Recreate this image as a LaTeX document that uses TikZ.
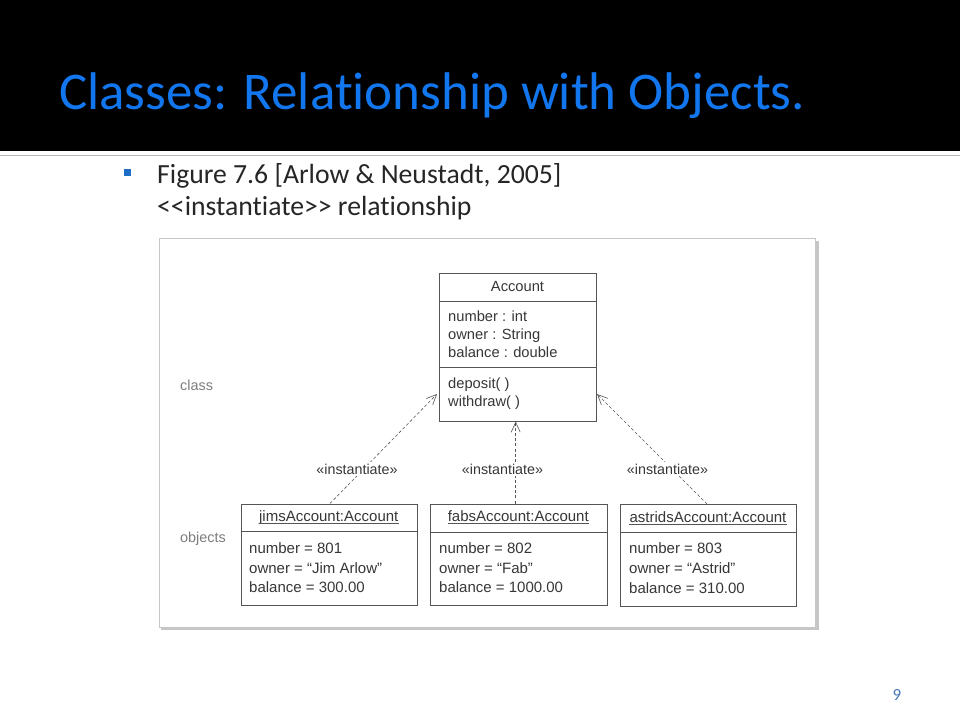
\documentclass[tikz,border=0pt]{standalone}
\usepackage{fontspec}
\setmainfont{Carlito}[Ligatures=NoCommon]
\newfontfamily\diagfont{Liberation Sans}
\usetikzlibrary{arrows.meta}
\definecolor{titleblue}{RGB}{18,118,238}
\definecolor{bulletblue}{RGB}{30,110,200}
\definecolor{pageblue}{RGB}{70,120,185}
\definecolor{diagtext}{RGB}{55,55,55}
\definecolor{diagline}{RGB}{85,85,85}
\definecolor{sidetext}{RGB}{125,125,125}
\tikzset{
  umlbox/.style={draw=diagline, line width=0.8pt, fill=white, inner sep=0, anchor=north west},
  dtext/.style={font=\diagfont\fontsize{15}{18}\selectfont, text=diagtext, inner sep=0},
  ctext/.style={font=\diagfont\fontsize{14.7}{18}\selectfont, text=diagtext, inner sep=0},
  attr/.style={dtext, anchor=base west},
  cattr/.style={ctext, anchor=base west},
  sidelbl/.style={font=\diagfont\fontsize{14.4}{16}\selectfont, text=sidetext, inner sep=0, anchor=west},
  stereo/.style={font=\diagfont\fontsize{14.3}{16}\selectfont, text=diagtext, fill=white, inner sep=1.5pt},
  inst/.style={draw=diagline, line width=0.6pt, dash pattern=on 3pt off 2.2pt, -{Straight Barb[length=10pt,width=9pt,line width=0.6pt]}},
  compline/.style={draw=diagline, line width=0.8pt}
}
\begin{document}
\begin{tikzpicture}[x=1pt,y=-1pt]
\useasboundingbox (0,0) rectangle (960,720);
\fill[white] (0,0) rectangle (960,720);
% header
\fill[black] (0,0) rectangle (960,151);
\draw[gray!55, line width=1.3pt] (0,155.5) -- (960,155.5);
\node[anchor=base west, inner sep=0, text=titleblue, font=\fontsize{53}{60}\selectfont] (title) at (59,109) {Classes: Relationship with Objects.};
% bullet text
\node[fill=bulletblue, minimum size=7pt, inner sep=0] (bullet) at (127.5,172.5) {};
\node[anchor=base west, inner sep=0, text=black!85, font=\fontsize{27.7}{32}\selectfont] (line1) at (157,183) {Figure 7.6 [Arlow \& Neustadt, 2005]};
\node[anchor=base west, inner sep=0, text=black!85, font=\fontsize{27.7}{32}\selectfont] (line2) at (157,215) {{<}{<}instantiate{>}{>} relationship};
% frame
\fill[gray!45] (161,241) rectangle (818.5,630);
\node[draw=gray!45, line width=0.8pt, fill=white, minimum width=656pt, minimum height=389pt, inner sep=0, anchor=north west] (frame) at (159,238) {};
% class box
\node[umlbox, minimum width=157pt, minimum height=148pt] (acc) at (439,272.5) {};
\draw[compline] (439,301.5) -- (596,301.5);
\draw[compline] (439,367.5) -- (596,367.5);
\node[ctext, anchor=base] (accname) at (517.5,291) {Account};
\node[cattr] (a1) at (448,321) {number : int};
\node[cattr] (a2) at (448,339) {owner : String};
\node[cattr] (a3) at (448,357) {balance : double};
\node[cattr] (m1) at (448,388) {deposit( )};
\node[cattr] (m2) at (448,406) {withdraw( )};
% side labels
\node[sidelbl] (cls) at (180,385) {class};
\node[sidelbl] (objs) at (180,539) {objects};
% object boxes
\node[umlbox, minimum width=176.5pt, minimum height=101pt] (jims) at (240.5,503.5) {};
\node[umlbox, minimum width=176.5pt, minimum height=101.5pt] (fabs) at (430,503.5) {};
\node[umlbox, minimum width=176pt, minimum height=101.5pt] (astr) at (620,504) {};
\draw[compline] (240.5,531.5) -- (417,531.5);
\draw[compline] (430,532) -- (606.5,532);
\draw[compline] (620,532.5) -- (796,532.5);
\node[dtext, anchor=base] (jn) at (328.75,521) {jimsAccount:Account};
\node[dtext, anchor=base] (fn) at (518.25,521) {fabsAccount:Account};
\node[dtext, anchor=base] (an) at (708,522) {astridsAccount:Account};
\foreach \n in {jn,fn,an}{
  \draw[diagline, line width=0.7pt] ([yshift=-2.8pt]\n.base west) -- ([yshift=-2.8pt]\n.base east);
}
\node[attr] (j1) at (249,553) {number = 801};
\node[attr] (j2) at (249,573) {owner = “Jim Arlow”};
\node[attr] (j3) at (249,592.5) {balance = 300.00};
\node[attr] (f1) at (439,553) {number = 802};
\node[attr] (f2) at (439,573) {owner = “Fab”};
\node[attr] (f3) at (439,592.5) {balance = 1000.00};
\node[attr] (s1) at (629,553.5) {number = 803};
\node[attr] (s2) at (629,573.5) {owner = “Astrid”};
\node[attr] (s3) at (629,593) {balance = 310.00};
% connectors
\coordinate (tipL) at (437,394);
\coordinate (tipM) at (515.7,421.5);
\coordinate (tipR) at (597,394);
\coordinate (footL) at (330,503.5);
\coordinate (footM) at (515.7,503.5);
\coordinate (footR) at (707,504);
\draw[inst] (footL) -- (tipL);
\draw[inst] (footM) -- (tipM);
\draw[inst] (footR) -- (tipR);
\node[stereo] (st1) at (357,469) {«instantiate»};
\node[stereo] (st2) at (502.5,469) {«instantiate»};
\node[stereo] (st3) at (667.5,469) {«instantiate»};
% page number
\node[text=pageblue, font=\fontsize{17}{20}\selectfont, inner sep=0] (pg) at (897,695) {9};
\end{tikzpicture}
\end{document}
